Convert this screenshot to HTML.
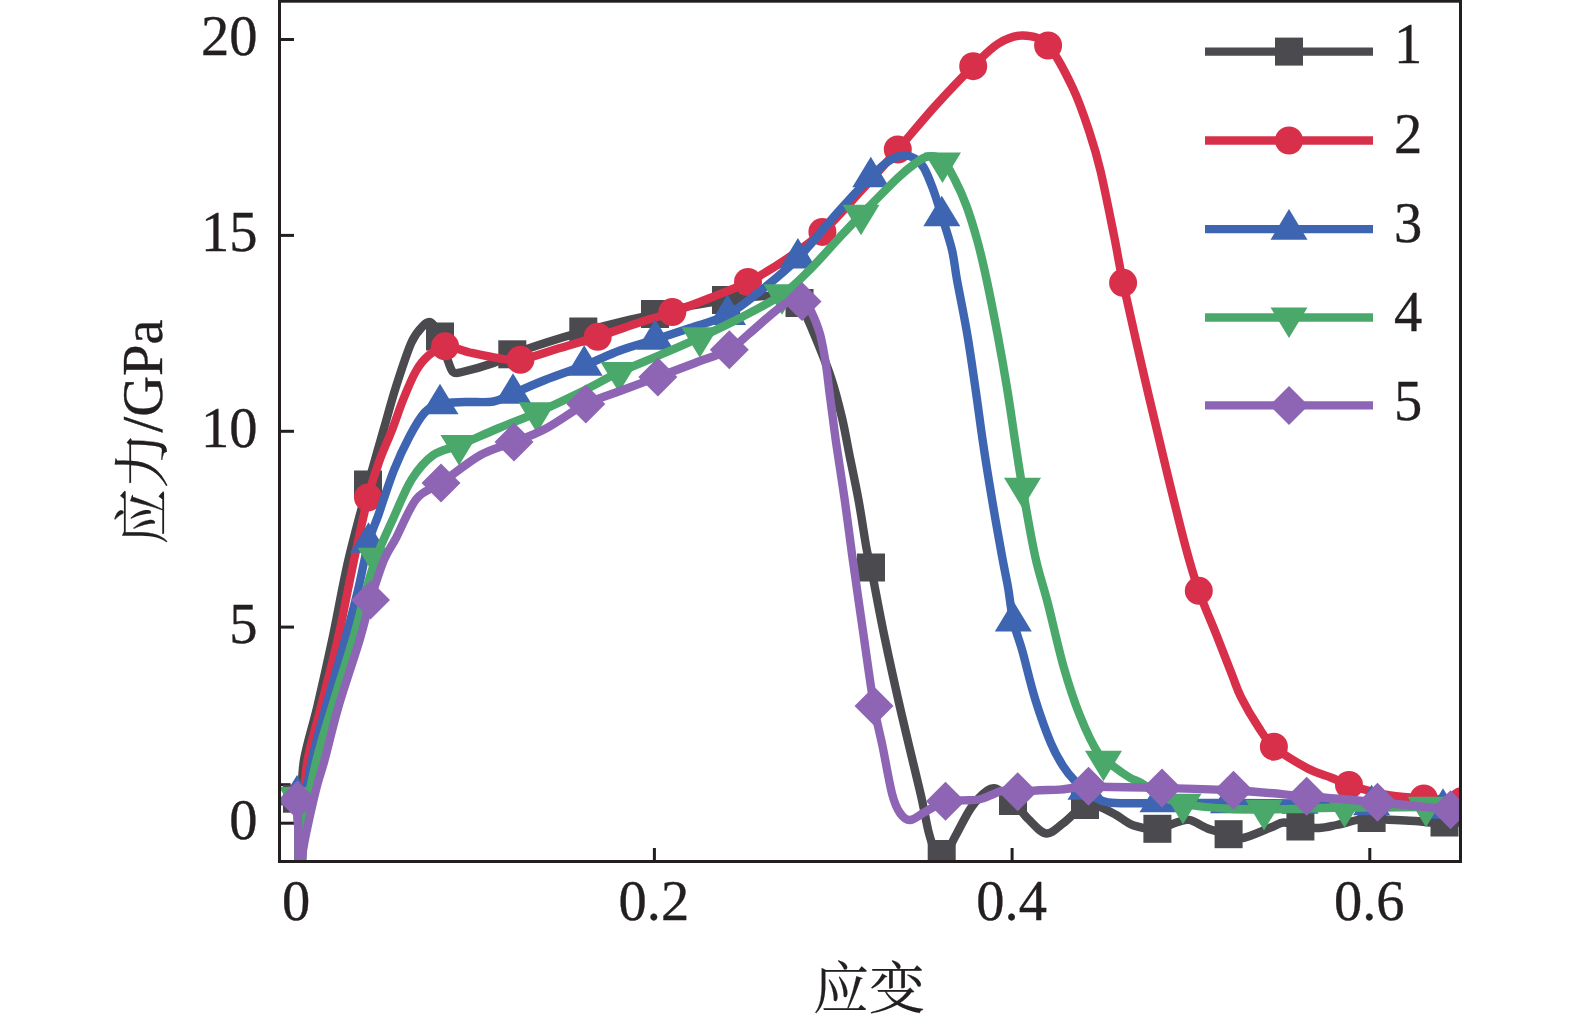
<!DOCTYPE html>
<html lang="zh"><head><meta charset="utf-8"><title>应力-应变</title>
<style>html,body{margin:0;padding:0;background:#fff}body{width:1575px;height:1023px;overflow:hidden}svg{display:block}text{font-family:"Liberation Serif","Noto Serif CJK SC",serif;font-size:56.5px;fill:#231f20;stroke:#231f20;stroke-width:0.35px}.cj{font-family:"Liberation Serif","Noto Serif CJK SC",serif}.c{font-size:56px;stroke-width:0.2px}</style></head><body>
<svg width="1575" height="1023" viewBox="0 0 1575 1023">
<rect width="1575" height="1023" fill="#fff"/>
<defs><clipPath id="pc"><rect x="279.5" y="1.2" width="1181" height="860.3"/></clipPath></defs>
<g stroke="#231f20" stroke-width="3" fill="none">
<line x1="280" y1="39.5" x2="294" y2="39.5"/>
<line x1="280" y1="235.4" x2="294" y2="235.4"/>
<line x1="280" y1="431.3" x2="294" y2="431.3"/>
<line x1="280" y1="627.1" x2="294" y2="627.1"/>
<line x1="280" y1="823.2" x2="294" y2="823.2"/>
<line x1="280" y1="784.7" x2="290.5" y2="784.7"/>
<line x1="296.5" y1="848" x2="296.5" y2="861"/>
<line x1="654.4" y1="848" x2="654.4" y2="861"/>
<line x1="1012.1" y1="848" x2="1012.1" y2="861"/>
<line x1="1369.8" y1="848" x2="1369.8" y2="861"/>
</g>
<g clip-path="url(#pc)">
<path d="M297.3,798.7L298.3,830L298.8,880L300.8,880L301.5,800C301.9,793.3 301.4,775.6 304,760C306.6,744.4 312.6,726.6 317.3,706.6C322,686.6 327,664.4 332.2,640C337.4,615.6 342.4,585.8 348.4,560C354.4,534.2 362.1,506.8 368,485C373.9,463.2 379.1,445.5 383.8,429C388.5,412.5 391.6,400.3 396.2,386C400.8,371.7 406.9,352.8 411.2,343C414.7,335 418.7,330.4 422,327C425.1,323.7 428,320.9 431,322.5C434,324.1 437.3,330.6 440,336.5C442.7,342.4 444.8,352.1 447,358C449.2,363.9 450.5,369.7 453,372C455.5,374.3 458,372.9 462,372C468.8,370.5 485.1,365.9 493.5,363C501.9,360.1 503.6,357.7 512.3,354.3C521.4,350.8 536.2,345.8 548,342C559.8,338.2 571.3,334.8 583.3,331.5C595.3,328.2 608,324.9 620,322C632,319.1 643.3,316.7 655,314C666.7,311.3 678.2,308.3 690,306C701.8,303.7 713.5,301.7 726,300C738.5,298.3 754.3,296.3 765,296C775.7,295.7 784.2,296.8 790,298C794.7,299 796.7,299.1 799.5,303C803.2,308.2 806.9,317 812,329C817.2,341.4 826,362.7 831,377.5C836,392.3 838.8,404.2 842,417.8C845.2,431.4 847.5,445.4 850.3,459.2C853.1,473 855.9,485.4 858.6,500.5C861.4,515.6 864.7,538.9 866.8,550.1C868.3,558 869.4,559.6 871,567.5C873.9,581.7 879.1,610.8 884.2,635.3C889.3,659.8 895.6,688.3 901.7,714.8C907.8,741.3 916.2,774.6 920.7,794.2C924.6,811.3 926.3,823 928.7,832.3C930.8,840.5 932.8,846.4 935,850C936.8,853 939.4,854.3 941.7,854C944,853.7 946.7,851.1 949,848C951.3,844.9 952.6,841.1 955.7,835.5C959.5,828.7 966.3,814.5 971.6,807C976.9,799.5 983.3,793.5 987.5,790.5C991,788 993,787.4 997,789C1001.2,790.8 1007.7,795.9 1013,801C1018.3,806.1 1023.2,814.2 1028.8,819.6C1034.3,825 1040.5,833 1046.3,833.5C1052.1,834 1057.2,827.6 1063.7,822.8C1070.2,818 1079.2,807.2 1085,804.5C1090.6,801.9 1093.5,804.8 1098.7,806.5C1103.9,808.2 1110.4,811.8 1116.2,815C1122,818.2 1127,823.2 1133.8,825.5C1140.6,827.8 1149.9,829.3 1157.3,828.7C1164.7,828.1 1172.5,823.5 1178,822C1183.3,820.6 1185.1,818.9 1190,820C1194.9,821.1 1201.2,826.1 1207.6,828.5C1214,830.9 1222.5,832.8 1228.4,834.4C1234.3,836 1236.3,839.1 1243,838C1250.3,836.8 1265.2,829.6 1272,827C1277.3,825 1279,822.7 1283.8,822.5C1288.5,822.3 1294.6,825.1 1300.5,826C1306.4,826.9 1313,828.2 1319,828C1325,827.8 1330.3,826.3 1336.6,825C1342.9,823.7 1351.2,821.2 1357,820C1362.8,818.8 1366.8,818.1 1371.6,818C1376.4,817.9 1379.5,819.1 1386,819.5C1393.2,820 1407.7,820.5 1415,821C1421.8,821.5 1425.3,822.3 1430,822.5C1434.7,822.7 1437.2,822.3 1443,822.4C1449.7,822.5 1465.5,822.9 1470,823" fill="none" stroke="#4a4a4f" stroke-width="8.4" stroke-linejoin="round" stroke-linecap="butt"/>
<g fill="#4a4a4f"><rect x="283" y="784.7" width="28" height="28"/><rect x="354" y="470.5" width="28" height="28"/><rect x="426" y="322.5" width="28" height="28"/><rect x="498.3" y="340.3" width="28" height="28"/><rect x="569.3" y="317.5" width="28" height="28"/><rect x="641" y="300" width="28" height="28"/><rect x="712" y="286" width="28" height="28"/><rect x="785.5" y="289" width="28" height="28"/><rect x="857" y="553.5" width="28" height="28"/><rect x="927.7" y="840" width="28" height="28"/><rect x="999" y="787" width="28" height="28"/><rect x="1071" y="791" width="28" height="28"/><rect x="1143.4" y="814.8" width="28" height="28"/><rect x="1214.6" y="820.2" width="28" height="28"/><rect x="1286.4" y="812.5" width="28" height="28"/><rect x="1357.6" y="804" width="28" height="28"/><rect x="1430.5" y="808.5" width="28" height="28"/></g>
<path d="M297.3,798L298.3,830L298.8,880L300.8,880L303,805C303.8,797.5 304.6,776.4 307.6,760C310.6,743.6 316,726.6 321,706.6C326,686.6 332.1,664.4 337.6,640C343.1,615.6 348.9,583.8 354,560C359.1,536.2 363.8,513.8 368,497.5C372.1,481.3 374.9,473.4 379,462C383.1,450.6 388.4,439.3 392.4,429C396.4,418.7 399.1,409.7 403,400C406.9,390.3 411.8,378.3 416,371C420.2,363.7 423.1,360.1 428,356C432.9,351.9 438.1,346.9 445.1,346.3C452.1,345.7 460.9,350.5 470,352.5C479.1,354.5 491.6,357.3 500,358.5C508.4,359.7 511.3,361.4 520.4,359.8C530.4,358.1 547.1,351.8 560,348C572.9,344.2 585.2,340.8 597.7,336.8C610.2,332.8 622.6,328.1 635,324C647.4,319.9 659.8,316.4 672.3,312.1C684.8,307.8 697.4,303 710,298C722.6,293 735.5,288.3 748,282C760.5,275.7 772.6,268.4 785,260C797.4,251.7 809.9,243.2 822.4,231.9C834.9,220.6 847.4,205.7 860,192C872.6,178.3 885.3,163.8 897.8,149.5C910.3,135.2 922.5,120 935.1,106.1C947.7,92.2 962.6,76.6 973.2,66.2C983.8,55.8 990.2,48.6 998.5,43.5C1006.8,38.4 1014.7,35.2 1023,35.5C1031.3,35.8 1039.8,36.7 1048.1,45.5C1056.4,54.3 1066,73.7 1072.9,88.2C1079.8,102.7 1084.9,118.5 1089.5,132.3C1094.1,146.1 1096.4,153.5 1100.5,170.9C1104.6,188.3 1110.5,218.3 1114.3,237C1118.1,255.7 1118.7,262.3 1123.1,282.8C1128.4,307.3 1138.5,351.7 1146,384C1153.5,416.3 1161.4,449.3 1168,476.4C1174.6,503.5 1180.5,527.7 1185.6,546.8C1190.7,565.9 1193.7,576.1 1198.8,590.8C1203.9,605.5 1210.9,620.9 1216.4,634.8C1221.9,648.7 1227.7,663.9 1231.8,674.3C1235.9,684.6 1236.6,688.3 1241,697.1C1245.4,705.9 1252.8,718.6 1258.3,726.9C1263.8,735.2 1265.7,739.8 1273.9,746.7C1282.1,753.6 1297.8,763.1 1307.3,768.2C1316.8,773.3 1323.8,774.7 1330.8,777.5C1337.8,780.3 1342.5,782.8 1349,785C1355.5,787.2 1363.1,789.2 1370,791C1376.9,792.8 1381.4,794.2 1390.4,795.5C1399.4,796.8 1410.5,797.6 1423.8,798.5C1437.1,799.4 1462.3,800.6 1470,801" fill="none" stroke="#d8304a" stroke-width="8.4" stroke-linejoin="round" stroke-linecap="butt"/>
<g fill="#d8304a"><circle cx="297" cy="798" r="14"/><circle cx="368" cy="497.5" r="14"/><circle cx="445.1" cy="346.3" r="14"/><circle cx="520.4" cy="359.8" r="14"/><circle cx="597.7" cy="336.8" r="14"/><circle cx="672.3" cy="312.1" r="14"/><circle cx="748" cy="282" r="14"/><circle cx="822.4" cy="231.9" r="14"/><circle cx="897.8" cy="149.5" r="14"/><circle cx="973.2" cy="66.2" r="14"/><circle cx="1048.1" cy="45.5" r="14"/><circle cx="1123.1" cy="282.8" r="14"/><circle cx="1198.8" cy="590.8" r="14"/><circle cx="1273.9" cy="746.7" r="14"/><circle cx="1349" cy="785" r="14"/><circle cx="1423.8" cy="798.5" r="14"/><circle cx="1462" cy="801" r="14"/></g>
<path d="M297.3,795.3L298.3,830L298.8,880L300.8,880L304,810C305.3,801.7 308.3,777.2 312,760C315.7,742.8 320.5,726.6 326,706.6C331.5,686.6 339.7,659.4 345,640C350.3,620.6 354.1,606.2 358,590C361.9,573.8 365.1,555 368.5,542.5C371.9,530 374.1,527.1 378.4,515C382.6,502.9 388.8,483.1 394,470C399.2,456.9 404.4,446.1 409.5,436.5C414.6,426.9 419.6,417.9 424.7,412.5C429.8,407.1 433.3,405.8 440,404C446.7,402.2 456.1,402.4 465,402C473.9,401.6 485.5,402.9 493.5,401.5C501.5,400.1 504.4,397.1 513,393.5C521.6,389.9 533.1,384.7 545,380C556.9,375.3 571.7,370.4 584.2,365.5C596.7,360.6 608.2,354.8 620,350.5C631.8,346.2 643.5,343.2 655.2,339.5C666.9,335.8 678,332.1 690,328C702,323.9 715.6,321.1 727.5,314.8C739.4,308.5 749.9,299.4 761.6,290C773.3,280.6 785.2,271.3 797.9,258.3C810.6,245.3 825.9,225.6 838,212C850.1,198.4 862.5,185.4 870.8,177C878.1,169.6 882.6,165.1 888,161.5C893.4,157.9 898.5,156 903,155.5C907.5,155 911.5,156.4 915,158.5C918.5,160.6 921,162.9 924,168C927,173.1 930,181 933,189C936,197 938.6,205.8 941.8,216C945,226.2 949.5,239.3 952,250C954.5,260.7 954.6,266.5 957,280C959.6,294.2 964.3,316.7 967.4,335.1C970.5,353.5 973,371.9 975.7,390.3C978.4,408.7 980.6,427 983.4,445.4C986.1,463.8 989.1,482.1 992.2,500.5C995.3,518.9 999.2,541.1 1001.9,555.6C1004.5,570.1 1006.2,576.8 1008.1,587.7C1010,598.7 1010.9,610.7 1013.3,621.3C1015.7,631.9 1018.8,638.3 1022.4,651.2C1026,664.1 1030.3,683.5 1035.1,698.9C1039.9,714.3 1046.3,732.2 1051,743.4C1055.4,754 1059,759.7 1063,766C1067,772.3 1071.2,777.1 1075,781C1078.8,784.9 1082.5,786.7 1086,789.5C1089.5,792.3 1092.3,795.9 1096,798C1099.7,800.1 1102.3,801.4 1108,802.3C1113.7,803.2 1121.7,803.2 1130,803.3C1138.3,803.4 1145.4,803 1158,803C1174.4,803 1204.8,802.9 1228.5,803C1252.2,803.1 1276.2,803.2 1300,803.5C1323.8,803.8 1347.8,804.2 1371.6,805C1395.4,805.8 1426.6,807.4 1443,808C1455.1,808.4 1465.5,808.4 1470,808.5" fill="none" stroke="#3d65b1" stroke-width="8.4" stroke-linejoin="round" stroke-linecap="butt"/>
<g fill="#3d65b1"><polygon points="297,775 315.5,805.6 278.5,805.6"/><polygon points="368.5,522.2 387,552.8 350,552.8"/><polygon points="440,383.7 458.5,414.3 421.5,414.3"/><polygon points="513,373.2 531.5,403.8 494.5,403.8"/><polygon points="584.2,345.2 602.7,375.8 565.7,375.8"/><polygon points="655.2,319.2 673.7,349.8 636.7,349.8"/><polygon points="727.5,294.5 746,325.1 709,325.1"/><polygon points="797.9,238 816.4,268.6 779.4,268.6"/><polygon points="870.8,156.7 889.3,187.3 852.3,187.3"/><polygon points="941.8,195.7 960.3,226.3 923.3,226.3"/><polygon points="1013.3,601 1031.8,631.6 994.8,631.6"/><polygon points="1086,769.2 1104.5,799.8 1067.5,799.8"/><polygon points="1158,781.7 1176.5,812.3 1139.5,812.3"/><polygon points="1228.5,782.7 1247,813.3 1210,813.3"/><polygon points="1300,783.2 1318.5,813.8 1281.5,813.8"/><polygon points="1371.6,784.7 1390.1,815.3 1353.1,815.3"/><polygon points="1443,788.2 1461.5,818.8 1424.5,818.8"/></g>
<path d="M297.3,797.3L298.3,830L298.8,880L300.8,880L305,815C306.9,805.8 312,778.1 316.5,760C321,741.9 326,726.6 332,706.6C338,686.6 347.4,658.1 352.7,640C358,621.9 360.1,611.7 364,598C367.9,584.3 371.1,571.3 376,558C380.9,544.7 387.3,531.4 393.3,518.2C399.3,505 405.2,489.5 411.9,479C418.6,468.5 425.4,460.6 433.3,455C441.2,449.4 448.2,449.6 459,445.2C469.8,440.8 484.8,433.9 497.8,428.5C510.8,423.1 523.3,418.6 537,412.6C550.7,406.6 566.3,399.2 580,392.5C593.7,385.8 605.7,378.6 619,372.3C632.3,366.1 646.5,360.8 660,355C673.5,349.2 686.5,343.7 699.8,337.5C713.1,331.3 726.3,325.2 740,318C753.7,310.8 770.4,302.5 782,294.5C793.6,286.5 799.8,279.6 809.5,270C819.2,260.4 831.4,246.2 840,237C848.6,227.8 851.4,224.8 861,215C870.6,205.2 888.7,186.6 897.7,178C905.1,171 910,167.1 915,163.5C920,159.9 923.4,157.1 928,156.5C932.6,155.9 938,156.1 942.5,160C947,163.9 951,172.3 955,180C959,187.7 962.8,195.9 966.5,206C970.2,216.1 973.9,228.2 977.3,240.5C980.7,252.8 983.3,264.2 986.7,280C990.1,295.8 994.2,316.7 997.7,335.1C1001.2,353.5 1004.4,371.9 1007.4,390.3C1010.4,408.7 1013.2,429.1 1015.7,445.4C1018.2,461.7 1019.3,469.6 1022.5,488C1025.7,506.4 1030.8,536.3 1035,555.6C1039.2,574.9 1043.1,585 1047.9,603.6C1052.7,622.2 1058.4,648.6 1063.7,667.1C1069,685.6 1073.8,700.3 1079.6,714.8C1085.4,729.3 1092.8,745.2 1098.7,754C1104,761.9 1109.9,763.6 1115,767.5C1120.1,771.4 1125.2,774.9 1129.5,777.5C1133.8,780.1 1136,780.2 1141,783C1146.4,786.1 1155,792.5 1162,796C1169,799.5 1173.1,802 1183,804C1193.5,806.1 1211.5,807.6 1225,808.5C1238.5,809.4 1250.7,809.5 1264,809.5C1277.3,809.5 1291.6,808.8 1305,808.5C1318.4,808.2 1331.3,807.7 1344.6,807.5C1357.9,807.3 1371.4,807.6 1385,807.5C1398.6,807.4 1411.8,807.1 1426,807C1440.2,806.9 1462.7,807 1470,807" fill="none" stroke="#49a86a" stroke-width="8.4" stroke-linejoin="round" stroke-linecap="butt"/>
<g fill="#49a86a"><polygon points="297.5,817.6 316,787 279,787"/><polygon points="376,578.3 394.5,547.7 357.5,547.7"/><polygon points="459,465.5 477.5,434.9 440.5,434.9"/><polygon points="537,432.9 555.5,402.3 518.5,402.3"/><polygon points="619,392.6 637.5,362 600.5,362"/><polygon points="699.8,357.8 718.3,327.2 681.3,327.2"/><polygon points="782,314.8 800.5,284.2 763.5,284.2"/><polygon points="861,235.3 879.5,204.7 842.5,204.7"/><polygon points="942.5,183.1 961,152.5 924,152.5"/><polygon points="1022.5,508.3 1041,477.7 1004,477.7"/><polygon points="1103.5,781.3 1122,750.7 1085,750.7"/><polygon points="1183,824.3 1201.5,793.7 1164.5,793.7"/><polygon points="1264,830.6 1282.5,800 1245.5,800"/><polygon points="1344.6,827.8 1363.1,797.2 1326.1,797.2"/><polygon points="1426,827.3 1444.5,796.7 1407.5,796.7"/></g>
<path d="M297.3,800L298.3,830L298.8,880L300.8,880L303,850C303.5,847.5 304.4,841.7 305.8,835C307.4,827.2 310.7,811.9 312.8,803C314.9,794.1 316.2,788.7 318.2,781.5C320.2,774.3 322,769.7 324.6,760C328,747.5 332.7,726.6 338.5,706.6C344.3,686.6 354.3,657.8 359.6,640C364.9,622.2 366.4,613.3 370.5,600C374.6,586.7 379.7,570.4 384,560C388.3,549.6 390.8,547.8 396.2,537.7C401.6,527.5 409.2,507.7 416.7,498.6C424.2,489.5 430.4,490.3 441,483C451.6,475.7 468.4,461.8 480.6,455C492.8,448.2 503.3,446.3 514,442C524.7,437.7 533,435.3 545,429C557,422.7 573.3,410.3 585.8,404C598.3,397.7 608,395.5 620,391C632,386.5 645.4,381.7 657.9,377C670.4,372.3 683.1,367.6 695,363C706.9,358.4 720.4,354.5 729.3,349.7C738.2,344.9 741.8,339.8 748.6,334.1C755.4,328.4 764,320.5 770,315.5C776,310.5 780.5,306.8 784.8,304C789.1,301.2 793,299.2 796,298.5C799,297.8 800.5,297.9 803,300C805.5,302.1 808.3,305.5 811,311C813.8,316.7 817.5,325 820,334C822.5,343 824.3,354.6 826,365C827.7,375.4 828.2,383 830,396.4C831.8,409.8 834,428 836.5,445.4C839,462.8 842.2,482.1 844.8,500.5C847.4,518.9 849.1,533.1 852.2,555.6C855.3,578.1 860,610.2 863.6,635.3C867.2,660.3 870.8,687.4 874,705.9C877.1,724.3 879.6,731.8 882.6,746.5C885.6,761.2 889.3,783.1 892.2,794.2C894.5,803.1 897,808.7 900,813C903,817.3 905.8,820.2 910,820C914.2,819.8 919.1,815.1 925,812C930.9,808.9 939.2,803.1 945.5,801.2C951.8,799.3 957,800.7 962.6,800.4C968.2,800.1 974.2,800.5 979.1,799.5C984,798.5 988.1,796.1 991.9,794.7C995.7,793.3 997.7,791.5 1002,791C1006.3,790.5 1011.4,791.8 1017.7,791.7C1024,791.6 1033,790.6 1040,790.2C1047,789.9 1051.9,790.2 1060,789.6C1068.1,789 1075.6,787 1088.5,786.8C1105.5,786.5 1137.8,787.4 1162,788C1186.2,788.6 1209.4,788.9 1233.5,790.3C1257.6,791.7 1282.7,794.3 1306.7,796.3C1330.7,798.3 1353.8,800 1377.5,802.2C1401.2,804.4 1433.6,808 1449,809.5C1458.4,810.4 1466.5,810.8 1470,811" fill="none" stroke="#8d65b4" stroke-width="8.4" stroke-linejoin="round" stroke-linecap="butt"/>
<g fill="#8d65b4"><polygon points="297.4,780.5 316.9,800 297.4,819.5 277.9,800"/><polygon points="370.5,580.5 390,600 370.5,619.5 351,600"/><polygon points="441,463.5 460.5,483 441,502.5 421.5,483"/><polygon points="514,422.5 533.5,442 514,461.5 494.5,442"/><polygon points="585.8,384.5 605.3,404 585.8,423.5 566.3,404"/><polygon points="657.9,357.5 677.4,377 657.9,396.5 638.4,377"/><polygon points="729.3,330.2 748.8,349.7 729.3,369.2 709.8,349.7"/><polygon points="802,282 821.5,301.5 802,321 782.5,301.5"/><polygon points="874,686.4 893.5,705.9 874,725.4 854.5,705.9"/><polygon points="945.5,781.7 965,801.2 945.5,820.7 926,801.2"/><polygon points="1017.7,772.2 1037.2,791.7 1017.7,811.2 998.2,791.7"/><polygon points="1088.5,766.8 1108,786.3 1088.5,805.8 1069,786.3"/><polygon points="1162,768.5 1181.5,788 1162,807.5 1142.5,788"/><polygon points="1233.5,770.8 1253,790.3 1233.5,809.8 1214,790.3"/><polygon points="1306.7,776.8 1326.2,796.3 1306.7,815.8 1287.2,796.3"/><polygon points="1377.5,782.7 1397,802.2 1377.5,821.7 1358,802.2"/><polygon points="1450.5,790.3 1470,809.8 1450.5,829.3 1431,809.8"/></g>
</g>
<rect x="279.5" y="1.2" width="1181" height="860.3" fill="none" stroke="#231f20" stroke-width="3"/>
<text x="257.5" y="55.1" text-anchor="end">20</text>
<text x="257.5" y="251" text-anchor="end">15</text>
<text x="257.5" y="446.9" text-anchor="end">10</text>
<text x="257.5" y="642.7" text-anchor="end">5</text>
<text x="257.5" y="838.8" text-anchor="end">0</text>
<text x="296" y="919.8" text-anchor="middle">0</text>
<text x="653.9" y="919.8" text-anchor="middle">0.2</text>
<text x="1011.6" y="919.8" text-anchor="middle">0.4</text>
<text x="1369.3" y="919.8" text-anchor="middle">0.6</text>
<text class="cj c" x="869" y="1007.6" text-anchor="middle">应变</text>
<text class="cj" transform="translate(161.5,432) rotate(-90)" text-anchor="middle"><tspan class="c">应力</tspan>/GPa</text>
<line x1="1205" y1="51.6" x2="1373" y2="51.6" stroke="#4a4a4f" stroke-width="8.4"/>
<g fill="#4a4a4f"><rect x="1275" y="37.6" width="28" height="28"/></g>
<text x="1394" y="63.3">1</text>
<line x1="1205" y1="140.5" x2="1373" y2="140.5" stroke="#d8304a" stroke-width="8.4"/>
<g fill="#d8304a"><circle cx="1289" cy="140.5" r="14"/></g>
<text x="1394" y="153.3">2</text>
<line x1="1205" y1="229.1" x2="1373" y2="229.1" stroke="#3d65b1" stroke-width="8.4"/>
<g fill="#3d65b1"><polygon points="1289,209.1 1307.5,239.7 1270.5,239.7"/></g>
<text x="1394" y="242">3</text>
<line x1="1205" y1="317.5" x2="1373" y2="317.5" stroke="#49a86a" stroke-width="8.4"/>
<g fill="#49a86a"><polygon points="1289,338.1 1307.5,307.5 1270.5,307.5"/></g>
<text x="1394" y="330.5">4</text>
<line x1="1205" y1="405.4" x2="1373" y2="405.4" stroke="#8d65b4" stroke-width="8.4"/>
<g fill="#8d65b4"><polygon points="1289,385.9 1308.5,405.4 1289,424.9 1269.5,405.4"/></g>
<text x="1394" y="419.7">5</text>
</svg></body></html>
